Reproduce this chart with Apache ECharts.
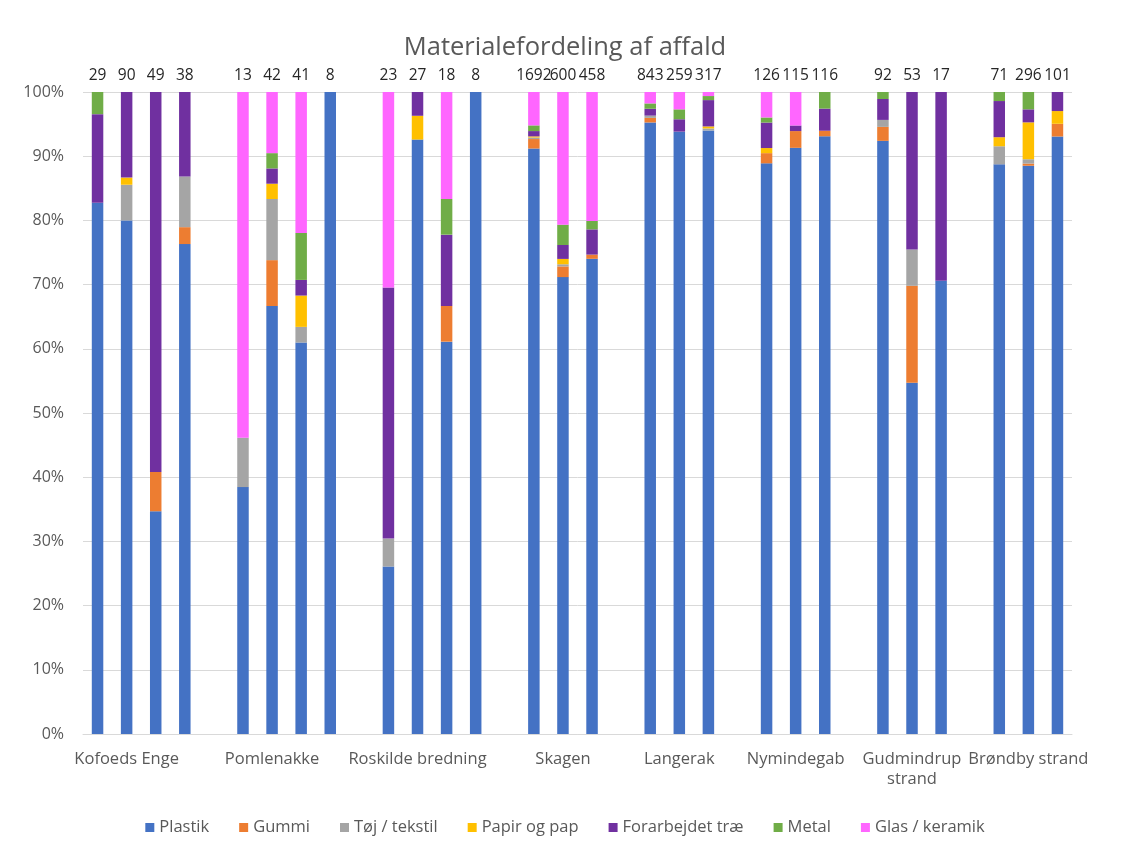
<!DOCTYPE html>
<html>
<head>
<meta charset="utf-8">
<title>Materialefordeling af affald</title>
<script src="https://cdn.jsdelivr.net/npm/echarts@6/dist/echarts.min.js"></script>
<style>
  html, body { margin: 0; padding: 0; background: #ffffff; }
  #chart { width: 1130px; height: 850px; }
</style>
</head>
<body>
<div id="chart"></div>
<script>
// Sites along the beach survey and how many samples (bars) each has
const sites = ['Kofoeds Enge', 'Pomlenakke', 'Roskilde bredning', 'Skagen', 'Langerak', 'Nymindegab', 'Gudmindrup\nstrand', 'Brøndby strand'];
const barsPerSite = [4, 4, 4, 3, 3, 3, 3, 3];

// Item counts per material, one entry per sample bar (in site order)
const materials = ['Plastik', 'Gummi', 'Tøj / tekstil', 'Papir og pap', 'Forarbejdet træ', 'Metal', 'Glas / keramik'];
const plastik = [24, 72, 17, 29, 5, 28, 25, 8, 6, 25, 11, 8, 1543, 427, 339, 803, 243, 298, 112, 105, 108, 85, 29, 12, 63, 262, 94];
const gummi   = [0, 0, 3, 1, 0, 3, 0, 0, 0, 0, 1, 0, 25, 10, 3, 6, 0, 0, 2, 3, 1, 2, 8, 0, 0, 1, 2];
const toej    = [0, 5, 0, 3, 1, 4, 1, 0, 1, 0, 0, 0, 4, 2, 0, 3, 0, 1, 0, 0, 0, 1, 3, 0, 2, 2, 0];
const papir   = [0, 1, 0, 0, 0, 1, 2, 0, 0, 1, 0, 0, 3, 5, 0, 0, 0, 1, 1, 0, 0, 0, 0, 0, 1, 17, 2];
const trae    = [4, 12, 29, 5, 0, 1, 1, 0, 9, 1, 2, 0, 14, 13, 18, 9, 5, 13, 5, 1, 4, 3, 13, 5, 4, 6, 3];
const metal   = [1, 0, 0, 0, 0, 1, 3, 0, 0, 0, 1, 0, 15, 19, 6, 7, 4, 2, 1, 0, 3, 1, 0, 0, 1, 8, 0];
const glas    = [0, 0, 0, 0, 7, 4, 9, 0, 7, 0, 3, 0, 88, 124, 92, 15, 7, 2, 5, 6, 0, 0, 0, 0, 0, 0, 0];

const materialCounts = [plastik, gummi, toej, papir, trae, metal, glas];
const colors = ['#4472C4', '#ED7D31', '#A5A5A5', '#FFC000', '#7030A0', '#70AD47', '#FF66FF'];

// Totals per sample bar (shown above each bar)
const totals = plastik.map((_, i) => materialCounts.reduce((s, arr) => s + arr[i], 0));

// Lay out the category slots: the bars of each site, with one empty slot between sites
const slotBar = [];        // index into the bar arrays, or null for a spacer slot
const bottomLabels = [];   // site name under the second bar of each site
let barIdx = 0;
sites.forEach((site, s) => {
  for (let k = 0; k < barsPerSite[s]; k++) {
    slotBar.push(barIdx++);
    bottomLabels.push(k === 1 ? site : '');
  }
  if (s < sites.length - 1) {
    slotBar.push(null);
    bottomLabels.push('');
  }
});
const topLabels = slotBar.map(b => (b === null ? '' : String(totals[b])));
const slotIds = slotBar.map((_, i) => 's' + i);

const series = materials.map((name, m) => ({
  name: name,
  type: 'bar',
  stack: 'andel',
  xAxisIndex: 0,
  barWidth: 11.5,
  itemStyle: { color: colors[m] },
  emphasis: { disabled: true },
  data: slotBar.map(b => (b === null ? null : (materialCounts[m][b] / totals[b]) * 100))
}));

const FONT = '"Open Sans", "Liberation Sans", sans-serif';

const chart = echarts.init(document.getElementById('chart'), null, { renderer: 'canvas' });
chart.setOption({
  animation: false,
  backgroundColor: '#ffffff',
  color: colors,
  title: {
    text: 'Materialefordeling af affald',
    left: 'center',
    top: 30,
    textStyle: { fontFamily: FONT, fontSize: 25.5, fontWeight: 'normal', color: '#595959' }
  },
  grid: { left: 83, right: 58, top: 92, bottom: 116, containLabel: false },
  legend: {
    bottom: 9,
    left: 'center',
    icon: 'rect',
    itemWidth: 9,
    itemHeight: 9,
    itemGap: 30,
    textStyle: { fontFamily: FONT, fontSize: 16.5, color: '#595959' },
    data: materials
  },
  xAxis: [
    {
      type: 'category',
      position: 'bottom',
      data: slotIds,
      axisLine: { lineStyle: { color: '#D9D9D9', width: 1 } },
      axisTick: { show: false },
      axisLabel: {
        interval: 0,
        margin: 15,
        fontFamily: FONT,
        fontSize: 16.5,
        color: '#595959',
        lineHeight: 20,
        formatter: (v, i) => bottomLabels[i]
      }
    },
    {
      type: 'category',
      position: 'top',
      data: slotIds,
      axisLine: { show: false },
      axisTick: { show: false },
      axisLabel: {
        interval: 0,
        margin: 8,
        fontFamily: FONT,
        fontSize: 15.5,
        color: '#262626',
        formatter: (v, i) => topLabels[i]
      }
    }
  ],
  yAxis: {
    type: 'value',
    min: 0,
    max: 100,
    interval: 10,
    axisLine: { show: false },
    axisTick: { show: false },
    splitLine: { lineStyle: { color: '#D9D9D9', width: 1 } },
    axisLabel: {
      margin: 19,
      fontFamily: FONT,
      fontSize: 16,
      color: '#595959',
      formatter: '{value}%'
    }
  },
  series: series
});
</script>
</body>
</html>
